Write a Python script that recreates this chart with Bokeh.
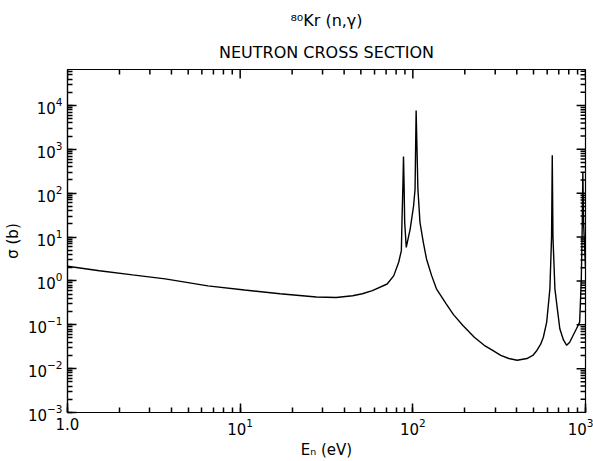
import numpy as np
from bokeh.plotting import figure
from bokeh.models import Title
from bokeh.embed import file_html
from bokeh.resources import INLINE

# ---- data ----
energy_ev = [1.0, 1.53, 2.38, 3.68, 6.5, 10.6, 17.0, 27.6, 36.0, 44.8, 51.0, 58.3,
             71.0, 77.6, 82.8, 85.8, 86.5, 87.6, 88.3, 89.0, 89.7, 91.6, 96.5,
             101.0, 103.0, 104.5, 107.0, 110.0, 115.0, 120.0, 128.5, 137.0, 156.0,
             172.0, 195.0, 227.0, 259.0, 290.0, 323.0, 360.0, 402.0, 458.0, 495.0,
             523.0, 550.0, 570.0, 596.0, 622.0, 636.0, 642.0, 648.0, 665.0, 690.0,
             710.0, 745.0, 778.0, 810.0, 847.0, 885.0, 925.0, 945.0, 958.0,
             965.0, 975.0, 1000.0]
sigma_b = [2.16, 1.71, 1.37, 1.11, 0.77, 0.62, 0.51, 0.43, 0.42, 0.46, 0.51, 0.60,
           0.85, 1.32, 2.66, 4.9, 22.0, 150.0, 683.0, 150.0, 22.0, 5.8, 15.2,
           51.0, 123.0, 7700.0, 123.0, 21.6, 7.6, 3.16, 1.32, 0.66, 0.30,
           0.17, 0.096, 0.052, 0.034, 0.026, 0.020, 0.017, 0.0155, 0.017, 0.020,
           0.026, 0.036, 0.052, 0.115, 0.66, 10.0, 730.0, 10.0, 0.66, 0.20,
           0.081, 0.045, 0.034, 0.040, 0.057, 0.08, 0.115, 1.0, 20.0,
           300.0, 20.0, 2.0]

x_tick_values = [1, 10, 100, 1000]
x_first_label = "1.0"
y_tick_values = [1e-3, 1e-2, 1e-1, 1e0, 1e1, 1e2, 1e3, 1e4]

title_line1 = "⁸⁰Kr (n,γ)"
title_line2 = "NEUTRON CROSS SECTION"
x_label = "Eₙ (eV)"
y_label = "σ (b)"

FONT = "DejaVu Sans"
X_LO, X_HI = 1.0, 1000.0
Y_LO, Y_HI = 1e-3, 6.6e4

# layout (pixels)
W, H = 593, 461
B_LEFT, B_RIGHT, B_TOP, B_BOTTOM = 62, 8, 69, 46
FRAME_W = W - B_LEFT - B_RIGHT
FRAME_H = H - B_TOP - B_BOTTOM
MAJ_LEN, MIN_LEN = 9, 5
TICK_W = 1.5

x_minor = [m * 10.0 ** k for k in range(0, 3) for m in range(2, 10)]
y_minor = [m * 10.0 ** k for k in range(-3, 5) for m in range(2, 10)
           if m * 10.0 ** k < Y_HI]

p = figure(width=W, height=H, x_axis_type="log", y_axis_type="log",
           x_range=(X_LO, X_HI), y_range=(Y_LO, Y_HI),
           output_backend="svg", toolbar_location=None,
           title=title_line1,
           min_border_left=B_LEFT, min_border_right=B_RIGHT,
           min_border_top=B_TOP, min_border_bottom=B_BOTTOM)
p.title.align = "center"
p.title.text_font = FONT
p.title.text_font_size = "16px"
p.title.text_font_style = "normal"
p.title.text_color = "black"
p.title.standoff = 8
p.add_layout(Title(text=title_line2, align="center", text_font=FONT,
                   text_font_size="16px", text_font_style="normal",
                   text_color="black", standoff=15), "above")

p.xgrid.visible = False
p.ygrid.visible = False
p.outline_line_color = "black"
p.outline_line_width = 1.2

for ax in (p.xaxis, p.yaxis):
    ax.axis_line_color = "black"
    ax.axis_line_width = 1.2
    ax.major_tick_in = MAJ_LEN
    ax.major_tick_out = 0
    ax.minor_tick_in = MIN_LEN
    ax.minor_tick_out = 0
    ax.major_tick_line_color = "black"
    ax.minor_tick_line_color = "black"
    ax.major_tick_line_width = TICK_W
    ax.minor_tick_line_width = TICK_W
    ax.major_label_text_font = FONT
    ax.major_label_text_font_size = "15px"
    ax.major_label_text_color = "black"
    ax.major_label_standoff = 5
    ax.axis_label_text_font = FONT
    ax.axis_label_text_font_size = "15px"
    ax.axis_label_text_font_style = "normal"
    ax.axis_label_text_color = "black"
    ax.axis_label_standoff = 3

p.xaxis.axis_label = x_label
p.yaxis.axis_label = y_label
p.xaxis.major_label_overrides = {x_tick_values[0]: x_first_label}

# mirror ticks on the top and right edges, as short segments inside the frame
dec_x = np.log10(X_HI / X_LO) / FRAME_W
dec_y = np.log10(Y_HI / Y_LO) / FRAME_H
for ticks, ln in ((x_tick_values, MAJ_LEN), (x_minor, MIN_LEN)):
    n = len(ticks)
    f = float(10 ** (ln * dec_y))
    p.segment(x0=ticks, x1=ticks, y0=[Y_HI] * n, y1=[Y_HI / f] * n,
              line_color="black", line_width=TICK_W)
for ticks, ln in ((y_tick_values, MAJ_LEN), (y_minor, MIN_LEN)):
    n = len(ticks)
    f = float(10 ** (ln * dec_x))
    p.segment(x0=[X_HI] * n, x1=[X_HI / f] * n, y0=ticks, y1=ticks,
              line_color="black", line_width=TICK_W)

p.line(energy_ev, sigma_b, line_color="black", line_width=1.4)

open("out.html", "w").write(file_html(p, INLINE))
